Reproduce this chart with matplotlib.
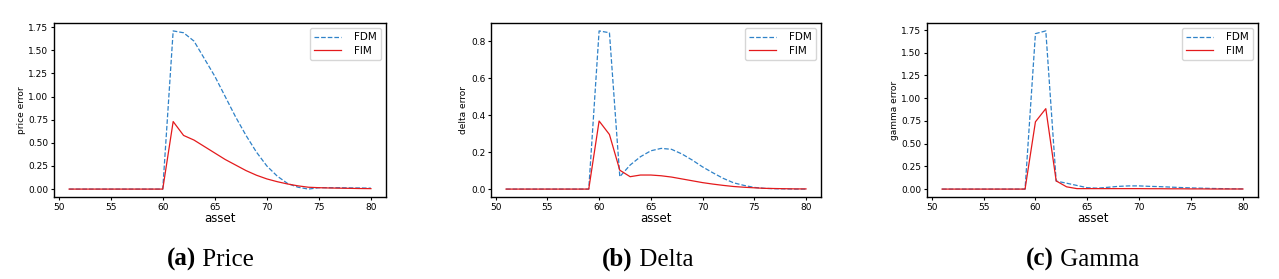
import matplotlib
matplotlib.use("Agg")
import matplotlib.pyplot as plt
import numpy as np

asset = np.arange(51, 81)

# price error (a)
price_fdm = [0, 0, 0, 0, 0, 0, 0, 0, 0, 0,
             1.71, 1.69, 1.60, 1.41, 1.22, 1.00, 0.78, 0.58, 0.40, 0.25,
             0.14, 0.06, 0.02, 0.0, 0.015, 0.015, 0.015, 0.013, 0.012, 0.01]
price_fim = [0, 0, 0, 0, 0, 0, 0, 0, 0, 0,
             0.73, 0.58, 0.53, 0.46, 0.39, 0.32, 0.26, 0.20, 0.15, 0.11,
             0.08, 0.055, 0.035, 0.02, 0.015, 0.012, 0.01, 0.008, 0.006, 0.005]

# delta error (b)
delta_fdm = [0, 0, 0, 0, 0, 0, 0, 0, 0,
             0.855, 0.845, 0.067, 0.13, 0.175, 0.207, 0.22, 0.215, 0.19, 0.157, 0.12,
             0.088, 0.058, 0.034, 0.02, 0.009, 0.004, 0.002, 0.001, 0.0, 0.0]
delta_fim = [0, 0, 0, 0, 0, 0, 0, 0, 0,
             0.368, 0.295, 0.102, 0.067, 0.076, 0.076, 0.072, 0.065, 0.055, 0.045, 0.035,
             0.027, 0.02, 0.014, 0.01, 0.007, 0.004, 0.003, 0.002, 0.001, 0.001]

# gamma error (c)
gamma_fdm = [0, 0, 0, 0, 0, 0, 0, 0, 0,
             1.71, 1.74, 0.088, 0.065, 0.04, 0.015, 0.01, 0.02, 0.03, 0.035, 0.035,
             0.03, 0.027, 0.022, 0.017, 0.013, 0.01, 0.007, 0.005, 0.003, 0.002]
gamma_fim = [0, 0, 0, 0, 0, 0, 0, 0, 0,
             0.74, 0.885, 0.09, 0.025, 0.005, 0.005, 0.005, 0.005, 0.005, 0.005, 0.005,
             0.004, 0.004, 0.003, 0.003, 0.002, 0.002, 0.001, 0.001, 0.001, 0.001]

panels = [
    ("price error", price_fdm, price_fim, "(a)", " Price"),
    ("delta error", delta_fdm, delta_fim, "(b)", " Delta"),
    ("gamma error", gamma_fdm, gamma_fim, "(c)", " Gamma"),
]

W, H = 1279, 279
fig = plt.figure(figsize=(W / 100, H / 100), dpi=100)

# pixel boxes: left, right, caption start
boxes = [(54, 386, 167), (491, 821, 602), (927, 1258, 1026)]
top, bottom = 23, 197

for (ylab, fdm, fim, tag, name), (l, r, cx) in zip(panels, boxes):
    ax = fig.add_axes([l / W, 1 - bottom / H, (r - l) / W, (bottom - top) / H])
    ax.plot(asset, fdm, "--", color="#2f82c8", lw=0.9, label="FDM")
    ax.plot(asset, fim, "-", color="#e41a1c", lw=0.9, label="FIM")
    ax.set_xticks([50, 55, 60, 65, 70, 75, 80])
    ax.tick_params(labelsize=6.5, length=2.5, width=0.8, pad=1.5)
    ax.set_xlabel("asset", fontsize=8.5, labelpad=0)
    ax.set_ylabel(ylab, fontsize=6.5, labelpad=2)
    for s in ax.spines.values():
        s.set_linewidth(1.0)
    ax.legend(loc="upper right", fontsize=7.5, handlelength=2.6, borderpad=0.4,
              labelspacing=0.3, handletextpad=1.2)

    # caption: bold tag followed by regular name
    t = fig.text(cx / W, 1 - 266 / H, tag, fontsize=18, fontweight="bold",
                 family="Liberation Serif", va="baseline", ha="left")
    ax.annotate(name, xy=(1, 0), xycoords=t, fontsize=18,
                family="Liberation Serif", va="bottom", ha="left",
                annotation_clip=False)

fig.savefig("out.png", dpi=100)
